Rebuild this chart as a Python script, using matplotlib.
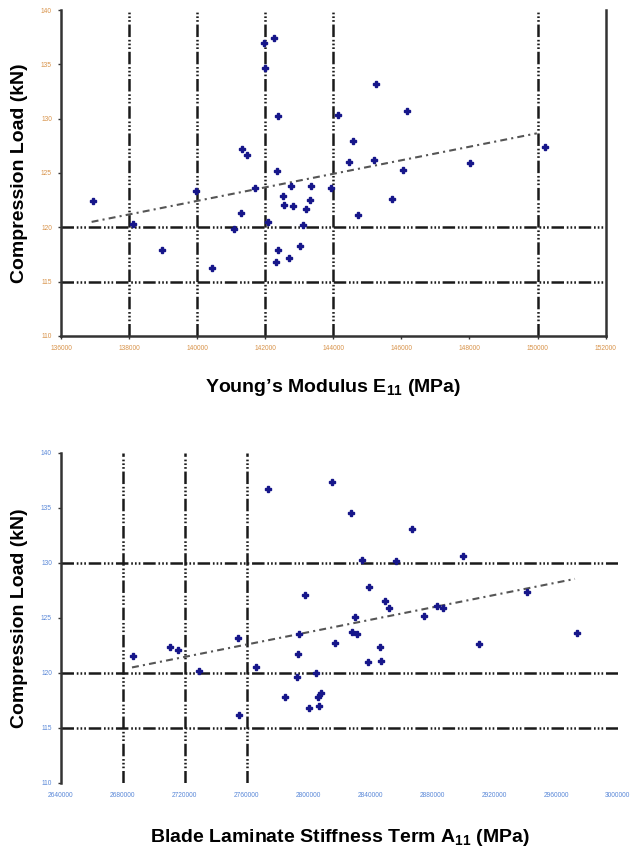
import numpy as np
import matplotlib
matplotlib.use("Agg")
import matplotlib.pyplot as plt

plt.rcParams['font.family'] = ['Liberation Sans', 'DejaVu Sans']
plt.rcParams['mathtext.fontset'] = 'custom'
plt.rcParams['mathtext.rm'] = 'Liberation Sans'
plt.rcParams['mathtext.bf'] = 'Liberation Sans:bold'
plt.rcParams['lines.scale_dashes'] = False

# Top chart: Young's modulus vs compression load
e11 = [136940, 138120, 138970, 139970, 140440, 141080, 141290, 141320, 141460, 141700,
       141960, 141990, 142260, 142080, 142320, 142380, 142350, 142380, 142520, 142550,
       142700, 142760, 142820, 143020, 143110, 143200, 143310, 143350, 143930, 144140,
       144460, 144580, 144720, 145250, 145190, 145720, 146050, 146160, 148020, 150220]
load_e = [122.4, 120.3, 117.9, 123.3, 116.3, 119.8, 121.3, 127.2, 126.7, 123.6,
          137.0, 134.7, 137.4, 120.5, 116.8, 130.2, 125.2, 117.9, 122.9, 122.1,
          117.2, 123.8, 122.0, 118.3, 120.2, 121.7, 122.5, 123.8, 123.6, 130.3,
          126.0, 127.9, 121.1, 133.2, 126.2, 122.6, 125.3, 130.7, 125.9, 127.4]
trend_e_x = [136900, 149980]
trend_e_y = [120.5, 128.65]
e_ticks = [136000, 138000, 140000, 142000, 144000, 146000, 148000, 150000, 152000]
e_vgrid = [138000, 140000, 142000, 144000, 150000]
e_hgrid = [115, 120]

# Bottom chart: A11 stiffness vs compression load
a11 = [2686500, 2710400, 2715600, 2729200, 2754400, 2755000, 2766000, 2773800, 2784800, 2792500,
       2793200, 2793800, 2797700, 2800300, 2804800, 2806100, 2806700, 2808000, 2815100, 2817100,
       2827400, 2828100, 2831300, 2830000, 2834500, 2838400, 2839100, 2846200, 2846800, 2849400,
       2852000, 2856500, 2866900, 2874600, 2883000, 2886900, 2899800, 2910200, 2941200, 2973500]
load_a = [121.55, 122.4, 122.1, 120.2, 123.2, 116.2, 120.5, 136.7, 117.8, 119.6,
          121.7, 123.5, 127.1, 116.8, 120.0, 117.8, 117.0, 118.2, 137.4, 122.7,
          134.5, 123.7, 123.5, 125.1, 130.3, 121.0, 127.8, 122.4, 121.1, 126.5,
          125.9, 130.2, 133.1, 125.2, 126.1, 125.9, 130.6, 122.6, 127.4, 123.6]
trend_a_x = [2685900, 2972200]
trend_a_y = [120.5, 128.55]
a_ticks = [2640000, 2680000, 2720000, 2760000, 2800000, 2840000, 2880000, 2920000, 2960000, 3000000]
a_vgrid = [2680000, 2720000, 2760000]
a_hgrid = [115, 120, 130]

y_ticks = [110, 115, 120, 125, 130, 135, 140]

grid_dash = (0, (9, 2, 1.2, 1.5, 1.2, 1.5, 1.2, 2))
marker_col = '#16168a'


def draw_panel(ax, xs, ys, tx, ty, xticks, vgrid, hgrid, tick_col):
    for g in vgrid:
        ax.axvline(g, color='#1a1a1a', lw=1.8, linestyle=grid_dash, zorder=1)
    for g in hgrid:
        ax.axhline(g, color='#1a1a1a', lw=1.8, linestyle=grid_dash, zorder=1)
    ax.plot(tx, ty, color='#555555', lw=1.5, dashes=(5, 3, 1.5, 3), zorder=2)
    ax.plot(xs, ys, linestyle='none', marker='P', markersize=3.7,
            color=marker_col, zorder=3)
    ax.set_xlim(xticks[0], xticks[-1])
    ax.set_ylim(110, 140)
    ax.set_xticks(xticks)
    ax.set_xticklabels([str(t) for t in xticks])
    ax.set_yticks(y_ticks)
    ax.tick_params(labelsize=4.8, labelcolor=tick_col, length=2.5, width=1,
                   color='#333333', pad=4)
    ax.set_ylabel('Compression Load (kN)', fontsize=14, fontweight='bold', labelpad=9)
    ax.spines['top'].set_visible(False)
    for s in ['left', 'bottom', 'right']:
        ax.spines[s].set_linewidth(1.8)
        ax.spines[s].set_color('#333333')


fig = plt.figure(figsize=(6.34, 8.48), dpi=100)

ax1 = fig.add_axes([0.0962, 0.6038, 0.859, 0.3844])
draw_panel(ax1, e11, load_e, trend_e_x, trend_e_y, e_ticks, e_vgrid, e_hgrid, '#d8934a')
ax1.set_xlabel('Young’s Modulus E$_{\\mathbf{11}}$ (MPa)', fontsize=14,
               fontweight='bold', labelpad=18)

ax2 = fig.add_axes([0.0962, 0.0767, 0.8785, 0.3892])
draw_panel(ax2, a11, load_a, trend_a_x, trend_a_y, a_ticks, a_vgrid, a_hgrid, '#5a88d8')
ax2.spines['right'].set_visible(False)
ax2.spines['bottom'].set_visible(False)
ax2.tick_params(axis='x', length=0, pad=6.5)
ax2.set_xlabel('Blade Laminate Stiffness Term A$_{\\mathbf{11}}$ (MPa)', fontsize=14,
               fontweight='bold', labelpad=20)

fig.savefig('out.png', dpi=100)
